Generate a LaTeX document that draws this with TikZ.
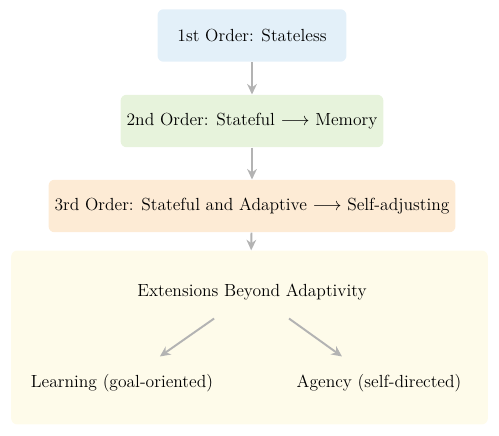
\documentclass[tikz,border=0pt]{standalone}
\usepackage{amsmath}
\usepackage{amssymb}
\usetikzlibrary{arrows.meta}
\definecolor{orderblue}{HTML}{E3F0F9}
\definecolor{ordergreen}{HTML}{E7F3DC}
\definecolor{orderorange}{HTML}{FDEBD5}
\definecolor{extyellow}{HTML}{FEFBEA}
\definecolor{flowgray}{HTML}{B3B3B3}
\tikzset {
    order box/.style = {rounded corners = 4pt, inner xsep = 4pt,
        minimum height = 35pt, align = center},
    ext box/.style = {rounded corners = 4pt, fill = extyellow,
        minimum width = 318pt, minimum height = 116pt},
    plain/.style = {minimum height = 35pt, inner sep = 0pt},
    flow/.style = {draw = flowgray, line width = 1.3pt,
        -{Stealth[length = 7pt, width = 6.5pt]}}
}
\begin{document}
\begin{tikzpicture}[x = 0.2345mm, y = -0.2345mm,
        font = \fontsize{11.7pt}{14pt}\selectfont]
    \useasboundingbox (0, 0) rectangle (499, 435);
    \node (ext) [ext box] at (249.5, 337.5) {};
    \node (o1) [order box, fill = orderblue, minimum width = 126pt] at (252, 35.5)
        {1st Order: Stateless};
    \node (o2) [order box, fill = ordergreen] at (252, 121)
        {2nd Order: Stateful $\longrightarrow$ Memory};
    \node (o3) [order box, fill = orderorange] at (252, 206)
        {3rd Order: Stateful and Adaptive $\longrightarrow$ Self-adjusting};
    \node (title) [plain] at (252, 292) {Extensions Beyond Adaptivity};
    \node (learn) [plain] at (122, 383) {Learning (goal-oriented)};
    \node (agency) [plain] at (379, 383) {Agency (self-directed)};
    \draw [flow] (o1) -- (o2);
    \draw [flow] (o2) -- (o3);
    \draw [flow] (o3) -- (ext);
    \draw [flow] (title) -- (learn);
    \draw [flow] (title) -- (agency);
\end{tikzpicture}
\end{document}
